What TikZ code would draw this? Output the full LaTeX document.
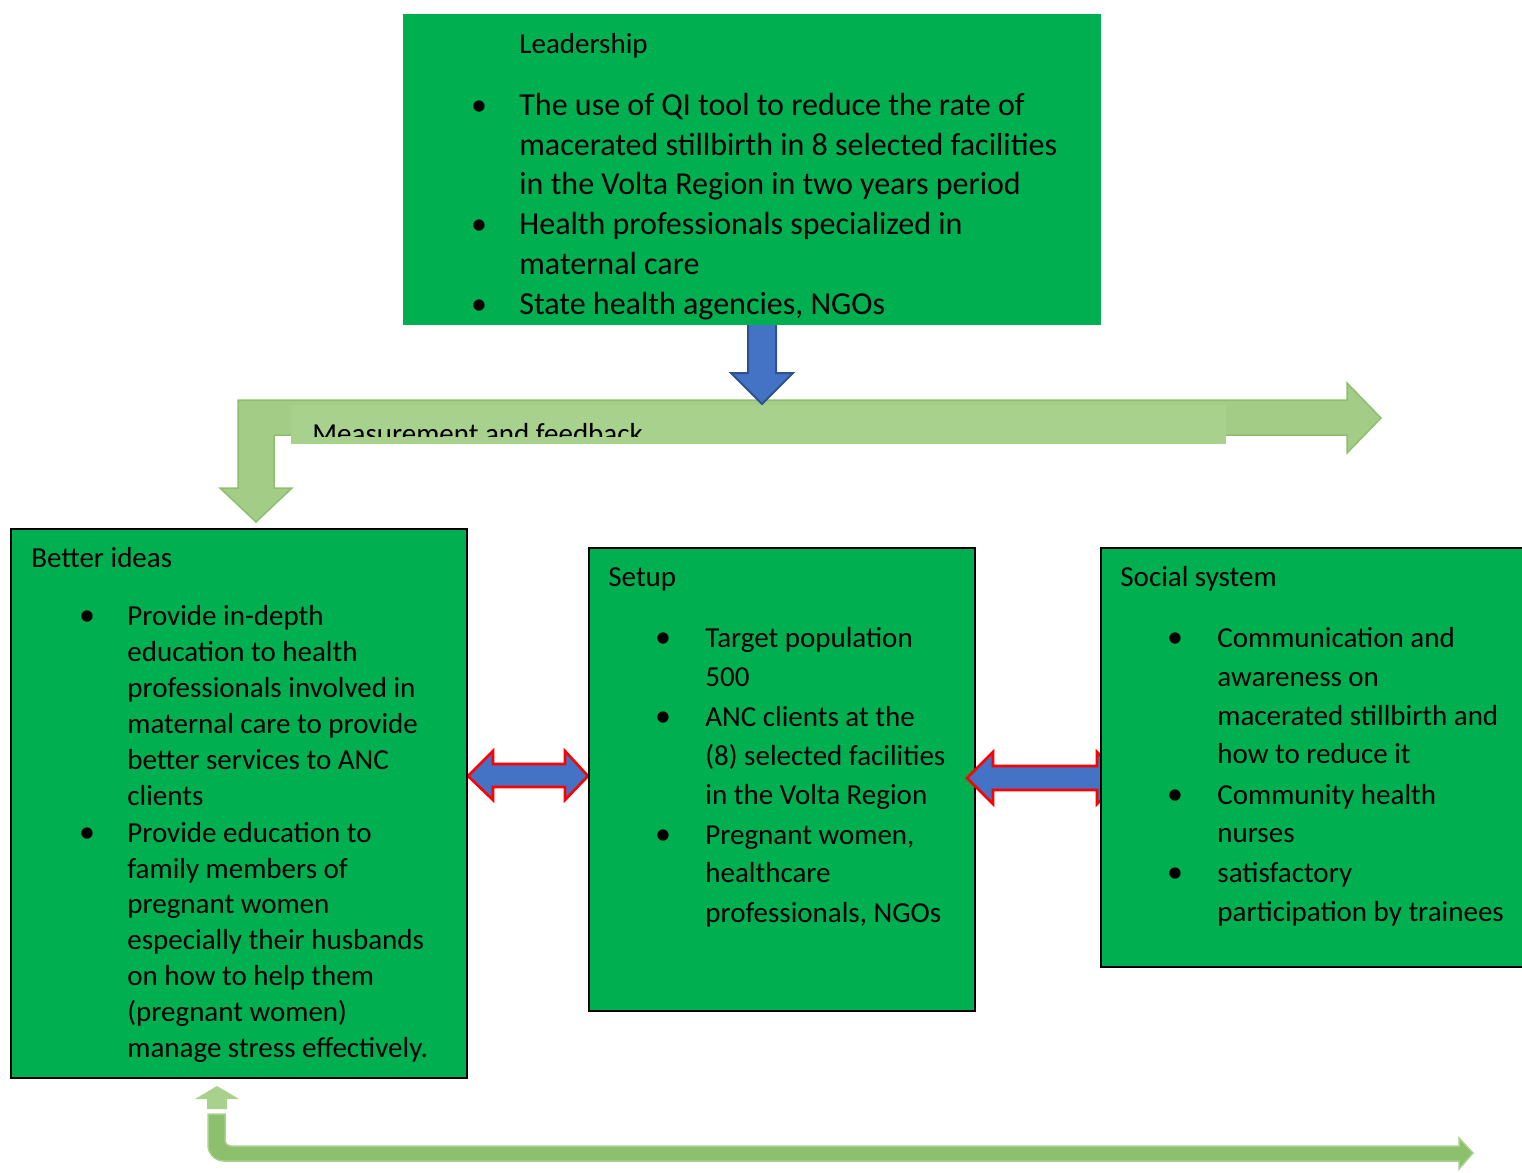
\documentclass[tikz,border=0pt]{standalone}
\usepackage{fontspec}
\setmainfont{Carlito}
\definecolor{boxgreen}{HTML}{00B050}
\definecolor{lightgreen}{HTML}{A9D18E}
\definecolor{bargreen}{HTML}{A3CD87}
\definecolor{edgegreen}{HTML}{8DBE6E}
\definecolor{midgreen}{HTML}{8CC06C}
\definecolor{arrowblue}{HTML}{4472C4}
\definecolor{darkblue}{HTML}{2F528F}
\tikzset{
  txt/.style={anchor=base west, inner sep=0pt, font=\fontsize{14.5}{17.5}\selectfont},
  bigtxt/.style={anchor=base west, inner sep=0pt, font=\fontsize{16}{19.5}\selectfont},
  dot/.style={anchor=base, inner sep=0pt, font=\fontsize{16}{19.5}\selectfont},
  box/.style={draw=black, line width=0.75pt, fill=boxgreen},
  twoway/.style={draw=red, line width=1.3pt, fill=arrowblue},
}

\begin{document}
\begin{tikzpicture}[x=0.5pt, y=-0.5pt]
\useasboundingbox (0,0) rectangle (1522,1173);
\clip (0,0) rectangle (1522,1173);

% arrow Measurement and feedback
\coordinate (M1) at (238,400) ;
\coordinate (M2) at (1347,400) ;
\coordinate (M3) at (1347,383) ;
\coordinate (M4) at (1381,418) ;
\coordinate (M5) at (1347,453) ;
\coordinate (M6) at (1347,435) ;
\coordinate (M7) at (274,435) ;
\coordinate (M8) at (274,488) ;
\coordinate (M9) at (292,488) ;
\coordinate (M10) at (256,522) ;
\coordinate (M11) at (220,488) ;
\coordinate (M12) at (238,488) ;
\draw[edgegreen, fill=bargreen, line width=0.75pt] (M1) -- (M2) -- (M3) -- (M4) -- (M5) -- (M6) -- (M7) -- (M8) -- (M9) -- (M10) -- (M11) -- (M12) -- cycle ;
\fill[lightgreen] (291,405) rectangle (1226,444) ;
\begin{scope}
\clip (291,405) rectangle (1226,436) ;
\node[txt] (meas) at (312,443) {Measurement and feedback};
\end{scope}

% arrow Leadership down
\coordinate (A1) at (748,320) ;
\coordinate (B1) at (776,320) ;
\coordinate (C1) at (776,373) ;
\coordinate (D1) at (793,373) ;
\coordinate (E1) at (762,404) ;
\coordinate (F1) at (731,373) ;
\coordinate (G1) at (748,373) ;
\draw[darkblue, fill=arrowblue, line width=1pt] (A1) -- (B1) -- (C1) -- (D1) -- (E1) -- (F1) -- (G1) -- cycle ;

% box Leadership
\begin{scope}
\clip (403,14) rectangle (1101,325) ;
\fill[boxgreen] (403,14) rectangle (1101,325) ;
\node[txt] (lead) at (519,53) {Leadership};
\node[dot] (leaddot1) at (479,115) {\textbullet};
\node[bigtxt] (lead1) at (519,115) {The use of QI tool to reduce the rate of};
\node[bigtxt] (lead2) at (519,155) {macerated stillbirth in 8 selected facilities};
\node[bigtxt] (lead3) at (519,194) {in the Volta Region in two years period};
\node[dot] (leaddot2) at (479,234) {\textbullet};
\node[bigtxt] (lead4) at (519,234) {Health professionals specialized in};
\node[bigtxt] (lead5) at (519,274) {maternal care};
\node[dot] (leaddot3) at (479,314) {\textbullet};
\node[bigtxt] (lead6) at (519,314) {State health agencies, NGOs};
\end{scope}

%% double arrow left
\draw[twoway] (468,776) -- (493,751) -- (493,764) -- (565,764) -- (565,751) -- (588,776) -- (565,800) -- (565,787) -- (493,787) -- (493,800) -- cycle ;

%% box Better ideas
\draw[box] (11,529) rectangle (467,1078) ;
\node[txt] (idea) at (31,567) {Better ideas};
\node[dot] (ideadot1) at (87,625) {\textbullet};
\node[txt] (idea1) at (127,625) {Provide in-depth};
\node[txt] (idea2) at (127,661) {education to health};
\node[txt] (idea3) at (127,697) {professionals involved in};
\node[txt] (idea4) at (127,733) {maternal care to provide};
\node[txt] (idea5) at (127,769) {better services to ANC};
\node[txt] (idea6) at (127,805) {clients};
\node[dot] (ideadot2) at (87,842) {\textbullet};
\node[txt] (idea7) at (127,842) {Provide education to};
\node[txt] (idea8) at (127,878) {family members of};
\node[txt] (idea9) at (127,913) {pregnant women};
\node[txt] (idea10) at (127,949) {especially their husbands};
\node[txt] (idea11) at (127,985) {on how to help them};
\node[txt] (idea12) at (127,1021) {(pregnant women)};
\node[txt] (idea13) at (127,1057) {manage stress effectively.};

%% box Setup
\draw[box] (589,548) rectangle (975,1011) ;
\node[txt] (setup) at (608,586) {Setup};
\node[dot] (setupdot1) at (663,647) {\textbullet};
\node[txt] (setup1) at (705,647) {Target population};
\node[txt] (setup2) at (705,686) {500};
\node[dot] (setupdot2) at (663,726) {\textbullet};
\node[txt] (setup3) at (705,726) {ANC clients at the};
\node[txt] (setup4) at (705,765) {(8) selected facilities};
\node[txt] (setup5) at (705,804) {in the Volta Region};
\node[dot] (setupdot3) at (663,844) {\textbullet};
\node[txt] (setup6) at (705,844) {Pregnant women,};
\node[txt] (setup7) at (705,882) {healthcare};
\node[txt] (setup8) at (705,922) {professionals, NGOs};

%% double arrow right
\draw[twoway] (967,778) -- (993,752) -- (993,766) -- (1097,766) -- (1097,752) -- (1123,778) -- (1097,804) -- (1097,790) -- (993,790) -- (993,804) -- cycle ;

%% box Social system
\draw[box] (1101,548) rectangle (1530,967) ;
\node[txt] (social) at (1120,586) {Social system};
\node[dot] (socialdot1) at (1175,647) {\textbullet};
\node[txt] (social1) at (1217,647) {Communication and};
\node[txt] (social2) at (1217,686) {awareness on};
\node[txt] (social3) at (1217,725) {macerated stillbirth and};
\node[txt] (social4) at (1217,763) {how to reduce it};
\node[dot] (socialdot2) at (1175,804) {\textbullet};
\node[txt] (social5) at (1217,804) {Community health};
\node[txt] (social6) at (1217,842) {nurses};
\node[dot] (socialdot3) at (1175,882) {\textbullet};
\node[txt] (social7) at (1217,882) {satisfactory};
\node[txt] (social8) at (1217,921) {participation by trainees};

%% arrows at the bottom
\fill[lightgreen] (217,1086) -- (239,1099) -- (227,1099) -- (227,1109) -- (207,1109) -- (207,1099) -- (195,1099) -- cycle ;
\draw[lightgreen, fill=midgreen, line width=0.75pt] (208,1114) [rounded corners=8pt] -- (208,1161) [sharp corners] -- (1459,1161) -- (1459,1169) -- (1473,1153) -- (1459,1138) -- (1459,1146) [rounded corners=3pt] -- (225,1146) [sharp corners] -- (225,1114) -- cycle ;
\end{tikzpicture}
\end{document}
